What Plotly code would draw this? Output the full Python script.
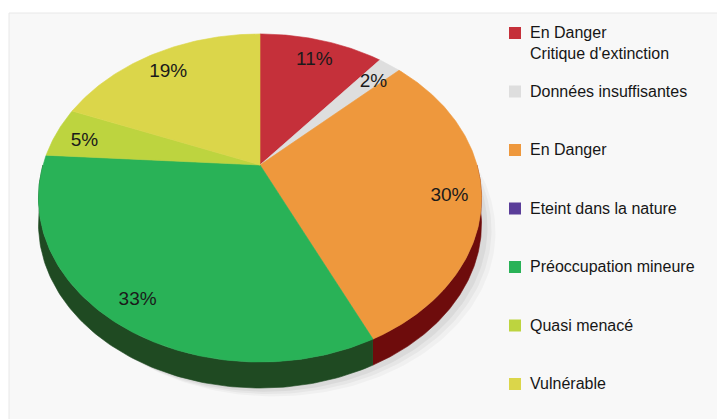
import numpy as np
import plotly.graph_objects as go

# ---- data ----
categories = ["En Danger<br>Critique d'extinction", "Données insuffisantes", "En Danger",
              "Eteint dans la nature", "Préoccupation mineure", "Quasi menacé", "Vulnérable"]
values = [11, 2, 30, 0, 33, 5, 19]
colors = ["#c5303a", "#dedede", "#ee983d", "#5a3d99", "#29b257", "#bdd43f", "#dbd64a"]
side_colors = ["#7a1111", "#9a9a9a", "#6e0c0c", "#3a2566", "#1f4a22", "#5a6a1e", "#6b6a1e"]

# ---- geometry (pixel space of the 725x419 window, perspective-tilted pie) ----
CX, CY, R, H, K, D = 260.0, 165.0, 217.0, 157.4, 0.2012, 26.0
LABEL_R, LABEL_DZ = 0.86, 5.0
OFF = 8  # page body margin


def proj(theta_deg, r=1.0, dz=0.0):
    t = np.radians(np.asarray(theta_deg, dtype=float))
    U = r * np.sin(t)
    V = r * np.cos(t)
    s = 1.0 / (1.0 + K * V)
    return CX + R * U * s, CY - H * V * s + dz


total = float(sum(values))
bounds = np.concatenate([[0.0], np.cumsum(values) / total * 360.0])

fig = go.Figure()

# soft shadow under the pie
for off, alpha in [(14, 0.03), (10, 0.04), (6, 0.05)]:
    th = np.linspace(60, 300, 200)
    x, y = proj(th, 1.0, D + off * 0.6)
    fig.add_trace(go.Scatter(x=list(x + off), y=list(y), fill="toself", mode="lines",
                             line=dict(width=0), fillcolor=f"rgba(0,0,0,{alpha})",
                             hoverinfo="skip", showlegend=False))

# sides (front only)
for i, v in enumerate(values):
    a, b = bounds[i], bounds[i + 1]
    lo, hi = max(a, 90.0), min(b, 270.0)
    if v <= 0 or lo >= hi:
        continue
    th = np.linspace(lo, hi, 120)
    xt, yt = proj(th, 1.0, 0)
    xb, yb = proj(th[::-1], 1.0, D)
    fig.add_trace(go.Scatter(x=list(xt) + list(xb), y=list(yt) + list(yb), fill="toself",
                             mode="lines", line=dict(width=0.6, color=side_colors[i]),
                             fillcolor=side_colors[i], hoverinfo="skip", showlegend=False))

# top faces
for i, v in enumerate(values):
    if v <= 0:
        continue
    a, b = bounds[i], bounds[i + 1]
    th = np.linspace(a, b, max(int((b - a) * 1.5), 4))
    xa, ya = proj(th)
    fig.add_trace(go.Scatter(x=[CX] + list(xa) + [CX], y=[CY] + list(ya) + [CY],
                             fill="toself", mode="lines",
                             line=dict(width=0.6, color=colors[i]), fillcolor=colors[i],
                             name=categories[i], hoverinfo="skip", showlegend=False))

# percentage labels
lx, ly, lt = [], [], []
for i, v in enumerate(values):
    if v <= 0:
        continue
    mid = (bounds[i] + bounds[i + 1]) / 2
    x, y = proj(mid, LABEL_R, LABEL_DZ)
    lx.append(float(x)); ly.append(float(y)); lt.append(f"{v}%")
fig.add_trace(go.Scatter(x=lx, y=ly, text=lt, mode="text",
                         textfont=dict(size=19, color="#1a1a1a",
                                       family="Liberation Sans, Arial, sans-serif"),
                         hoverinfo="skip", showlegend=False))

# custom legend
shapes = [dict(type="rect", xref="x", yref="y", x0=9, y0=13, x1=730, y1=425,
               fillcolor="#f8f8f8", line=dict(color="#e8e8e8", width=1), layer="below")]
annotations = []
for i, name in enumerate(categories):
    yc = 33 + i * 58.5
    shapes.append(dict(type="rect", xref="x", yref="y", x0=509, x1=521, y0=yc - 6, y1=yc + 6,
                       fillcolor=colors[i], line=dict(width=0)))
    annotations.append(dict(x=528, y=yc - 11, xref="x", yref="y", text=name, showarrow=False,
                            xanchor="left", yanchor="top", align="left",
                            font=dict(size=16, color="#161616",
                                      family="Liberation Sans, Arial, sans-serif")))

fig.update_layout(
    width=725 - OFF, height=419 - OFF, margin=dict(l=0, r=0, t=0, b=0),
    paper_bgcolor="white", plot_bgcolor="rgba(0,0,0,0)",
    xaxis=dict(range=[OFF, 725], visible=False, fixedrange=True),
    yaxis=dict(range=[419, OFF], visible=False, fixedrange=True),
    shapes=shapes, annotations=annotations, hovermode=False, showlegend=False,
)

fig.write_html("out.html")
